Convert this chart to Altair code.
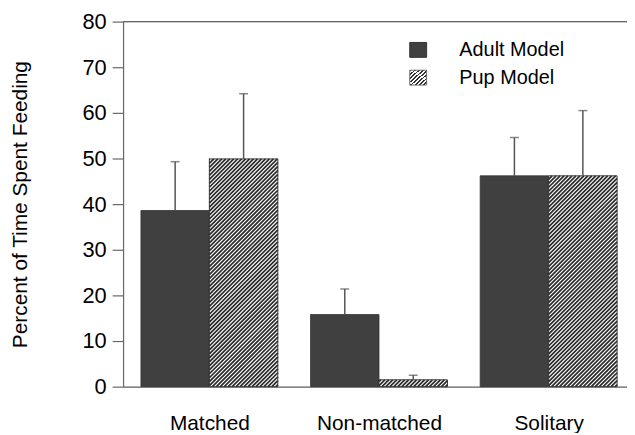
import json
import altair as alt
import pandas as pd

# ---- data ----
conditions = ["Matched", "Non-matched", "Solitary"]
series = ["Adult Model", "Pup Model"]
adult_mean = [38.6, 15.8, 46.2]
adult_err = [10.7, 5.6, 8.4]
pup_mean = [49.9, 1.5, 46.2]
pup_err = [14.3, 1.0, 14.3]
y_ticks = [0, 10, 20, 30, 40, 50, 60, 70, 80]

# ---- layout ----
W, H = 508, 368
Y_MAX = 80
PX_PER_CAT = 171.0
X_MIN = 1 - 87 / PX_PER_CAT
X_MAX = X_MIN + W / PX_PER_CAT
BAR_W = 69 / PX_PER_CAT
kx = W / (X_MAX - X_MIN)
ky = H / Y_MAX
FONT = "Liberation Sans"
DARK = "#404040"

rows = []
for i, c in enumerate(conditions):
    center = i + 1
    for s, m, e in ((series[0], adult_mean[i], adult_err[i]),
                    (series[1], pup_mean[i], pup_err[i])):
        x0 = center - BAR_W if s == series[0] else center
        rows.append(dict(cond=c, series=s, x0=x0, x1=x0 + BAR_W,
                         xm=x0 + BAR_W / 2, base=0.0, mean=m, top=m + e))
bars = pd.DataFrame(rows)
adult_df = bars[bars.series == series[0]]
pup_df = bars[bars.series == series[1]]

# hatch lines ("/") inside pup bars, derived from bar values
period = 4.0
hatch = []
for _, r in pup_df.iterrows():
    wpx = BAR_W * kx
    hpx = r["mean"] * ky
    t = -wpx + period / 2
    while t < hpx:
        u0 = max(0.0, -t)
        u1 = min(wpx, hpx - t)
        if u1 > u0:
            hatch.append(dict(x=r.x0 + u0 / kx, y=(u0 + t) / ky,
                              x2=r.x0 + u1 / kx, y2=(u1 + t) / ky))
        t += period
hatch_df = pd.DataFrame(hatch)

xscale = alt.Scale(domain=[X_MIN, X_MAX], nice=False, zero=False)
yscale = alt.Scale(domain=[0, Y_MAX], nice=False)

label_expr = "%s[round(datum.value) - 1]" % json.dumps(conditions)

x_axis = alt.Axis(values=[1, 2, 3], labelExpr=label_expr, ticks=False, tickSize=0,
                  grid=False, title=None, labelFontSize=21, labelPadding=26,
                  labelColor="black", labelFont=FONT, domainColor="#666666",
                  domainWidth=1.2)
y_axis = alt.Axis(values=y_ticks, tickSize=11, labelFontSize=22, labelPadding=6,
                  labelColor="black", labelFont=FONT, grid=False,
                  title="Percent of Time Spent Feeding", titleFontSize=21,
                  titleFontWeight="normal", titleFont=FONT, titleColor="black",
                  titlePadding=52, domainColor="#666666", tickColor="#666666",
                  domainWidth=1.2, tickWidth=1.2)

adult_bars = alt.Chart(adult_df).mark_rect(fill=DARK, stroke="#333333", strokeWidth=0.8).encode(
    x=alt.X("x0:Q", scale=xscale, axis=x_axis),
    x2="x1:Q",
    y=alt.Y("mean:Q", scale=yscale, axis=y_axis),
    y2="base:Q",
)
pup_bg = alt.Chart(pup_df).mark_rect(fill="white").encode(
    x="x0:Q", x2="x1:Q", y="mean:Q", y2="base:Q")
pup_hatch = alt.Chart(hatch_df).mark_rule(color="#2a2a2a", strokeWidth=1.7).encode(
    x="x:Q", x2="x2:Q", y="y:Q", y2="y2:Q")
pup_outline = alt.Chart(pup_df).mark_rect(fill="white", fillOpacity=0,
                                          stroke="#333333", strokeWidth=1).encode(
    x="x0:Q", x2="x1:Q", y="mean:Q", y2="base:Q")

err_rule = alt.Chart(bars).mark_rule(color="#555555", strokeWidth=1.5).encode(
    x="xm:Q", y="mean:Q", y2="top:Q")
err_cap = alt.Chart(bars).mark_tick(color="#555555", orient="horizontal",
                                    size=9, thickness=1.5).encode(
    x="xm:Q", y="top:Q")

top_border = alt.Chart(pd.DataFrame({"v": [Y_MAX]})).mark_rule(
    color="#666666", strokeWidth=1.2).encode(y="v:Q")

# manual legend
leg = pd.DataFrame({"label": series})
stops = []
n = 8
for k in range(n):
    a = k / n
    b = (k + 0.45) / n
    stops += [{"offset": a, "color": "#333333"}, {"offset": b, "color": "#333333"},
              {"offset": b, "color": "white"}, {"offset": (k + 1) / n, "color": "white"}]
grad = {"gradient": "linear", "x1": 0, "y1": 0, "x2": 1, "y2": 1, "stops": stops}

leg_adult = alt.Chart(leg.iloc[[0]]).mark_rect(fill=DARK, stroke="#333333").encode(
    x=alt.value(289), x2=alt.value(306), y=alt.value(21), y2=alt.value(36))
leg_pup = alt.Chart(leg.iloc[[1]]).mark_rect(fill=grad, stroke="#555555", strokeWidth=0.8).encode(
    x=alt.value(289), x2=alt.value(306), y=alt.value(49), y2=alt.value(64))
leg_text_a = alt.Chart(leg.iloc[[0]]).mark_text(align="left", baseline="middle",
                                                fontSize=20, font=FONT, color="black").encode(
    x=alt.value(339), y=alt.value(29), text="label:N")
leg_text_p = alt.Chart(leg.iloc[[1]]).mark_text(align="left", baseline="middle",
                                                fontSize=20, font=FONT, color="black").encode(
    x=alt.value(339), y=alt.value(57), text="label:N")

chart = alt.layer(
    adult_bars, pup_bg, pup_hatch, pup_outline, err_rule, err_cap, top_border,
    leg_adult, leg_pup, leg_text_a, leg_text_p,
).properties(
    width=W, height=H,
    autosize=alt.AutoSizeParams(type="none"),
    padding={"left": 116, "top": 12, "right": 0, "bottom": 45},
).configure_view(stroke=None).configure(background="white")

chart.save("out.html", embed_options={"renderer": "svg", "actions": False})
